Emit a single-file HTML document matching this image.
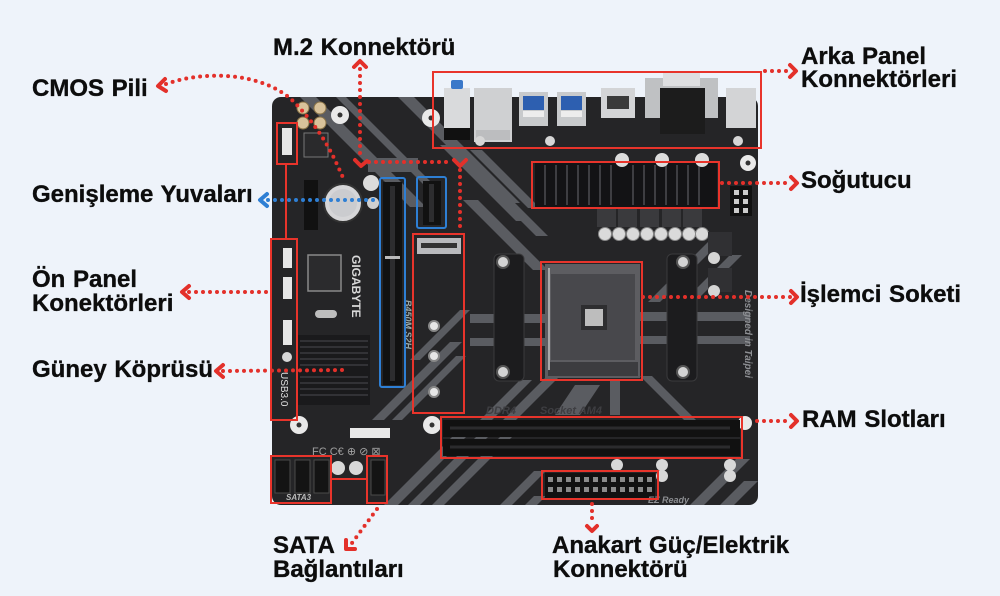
<!DOCTYPE html>
<html><head><meta charset="utf-8"><style>
html,body{margin:0;padding:0;background:#eef3fa;}
svg{display:block}
.lbl{font-family:"Liberation Sans",Arial,sans-serif;font-weight:bold;font-size:24px;fill:#0d0d0d;stroke:#0d0d0d;stroke-width:0.35px;word-spacing:1px;}
</style></head><body>
<svg width="1000" height="596" viewBox="0 0 1000 596" xmlns="http://www.w3.org/2000/svg">
<defs>
<clipPath id="bc"><rect x="272" y="97" width="486" height="408" rx="9"/></clipPath>
</defs>
<rect width="1000" height="596" fill="#eef3fa"/>

<!-- board -->
<rect x="272" y="97" width="486" height="408" rx="9" fill="#252527"/>
<g clip-path="url(#bc)" fill="#5a5c61">
  <polygon points="300,97 316,97 426,207 410,207"/>
  <polygon points="336,97 346,97 440,191 430,191"/>
  <polygon points="398,97 414,97 520,203 504,203"/>
  <polygon points="440,145 454,145 530,221 516,221"/>
  <polygon points="470,150 482,150 540,208 528,208"/>
  <rect x="368" y="158" width="50" height="14"/>
  <polygon points="463,200 478,200 548,270 533,270"/>
  <polygon points="500,200 512,200 548,236 536,236"/>
  <polygon points="712,238 724,238 660,302 648,302"/>
  <polygon points="730,255 742,255 690,307 678,307"/>
  <rect x="640" y="312" width="110" height="9"/>
  <rect x="640" y="336" width="110" height="8"/>
  <rect x="470" y="314" width="76" height="9"/>
  <rect x="470" y="338" width="76" height="8"/>
  <polygon points="547,376 560,376 510,426 497,426"/>
  <polygon points="520,380 532,380 490,422 478,422"/>
  <polygon points="640,376 652,376 702,426 690,426"/>
  <polygon points="610,380 620,380 620,415 610,415"/>
  <polygon points="575,385 600,385 580,415 555,415"/>
  <polygon points="372,420 384,420 462,342 450,342"/>
  <polygon points="392,420 402,420 466,356 456,356"/>
  <polygon points="384,505 398,505 470,433 456,433"/>
  <polygon points="408,505 420,505 492,433 480,433"/>
  <polygon points="432,505 444,505 514,435 502,435"/>
  <polygon points="500,505 512,505 546,471 534,471"/>
  <polygon points="525,505 537,505 546,496 534,496"/>
  <polygon points="690,505 704,505 750,459 736,459"/>
  <polygon points="720,505 734,505 758,481 744,481"/>
  <polygon points="410,360 420,360 470,310 460,310"/>
</g>

<!-- rear IO -->
<rect x="444" y="88" width="26" height="42" fill="#d9dadc"/>
<rect x="451" y="80" width="12" height="9" rx="2" fill="#3a78c9"/>
<rect x="444" y="128" width="26" height="12" fill="#111"/>
<rect x="474" y="88" width="38" height="54" fill="#cfd0d2"/>
<rect x="476" y="130" width="34" height="10" fill="#bcbdbf"/>
<rect x="519" y="92" width="29" height="34" fill="#c8cacc"/>
<rect x="523" y="96" width="21" height="14" fill="#2d5fb0"/>
<rect x="523" y="111" width="21" height="6" fill="#ededed"/>
<rect x="557" y="92" width="29" height="34" fill="#c8cacc"/>
<rect x="561" y="96" width="21" height="14" fill="#2d5fb0"/>
<rect x="561" y="111" width="21" height="6" fill="#ededed"/>
<rect x="601" y="88" width="34" height="30" fill="#d3d4d6"/>
<rect x="607" y="96" width="22" height="13" fill="#3a3a3a"/>
<rect x="645" y="78" width="73" height="40" fill="#bfc1c3"/>
<rect x="663" y="73" width="37" height="13" fill="#dedfe1"/>
<rect x="660" y="88" width="45" height="46" fill="#1c1c1c"/>
<rect x="726" y="88" width="30" height="40" fill="#d3d4d6"/>
<circle cx="480" cy="141" r="5" fill="#d6d6d6"/>
<circle cx="550" cy="141" r="5" fill="#d6d6d6"/>
<circle cx="738" cy="141" r="5" fill="#d6d6d6"/>

<!-- mounting holes -->
<g fill="#e9e9e9">
<circle cx="340" cy="115" r="9"/><circle cx="431" cy="118" r="9"/>
<circle cx="748" cy="163" r="8"/><circle cx="299" cy="425" r="9"/>
<circle cx="432" cy="425" r="9"/><circle cx="745" cy="423" r="7"/>
</g>
<g fill="#333">
<circle cx="340" cy="115" r="2.5"/><circle cx="431" cy="118" r="2.5"/>
<circle cx="748" cy="163" r="2.5"/><circle cx="299" cy="425" r="2.5"/>
<circle cx="432" cy="425" r="2.5"/>
</g>

<!-- top-left caps -->
<g fill="#d8c29a" stroke="#8a7448" stroke-width="1">
<circle cx="303" cy="108" r="6"/><circle cx="320" cy="108" r="6"/>
<circle cx="303" cy="123" r="6"/><circle cx="320" cy="123" r="6"/>
</g>
<rect x="304" y="133" width="24" height="24" fill="#2a2a2c" stroke="#777" stroke-width="1"/>

<!-- PCIe slots -->
<rect x="304" y="180" width="14" height="50" fill="#111"/>
<rect x="383" y="182" width="19" height="203" fill="#111"/>
<rect x="390" y="186" width="5" height="195" fill="#2d2d2f"/>
<rect x="385" y="256" width="15" height="3" fill="#bbb"/>
<rect x="423" y="181" width="18" height="44" fill="#111"/>
<rect x="429" y="184" width="5" height="38" fill="#2d2d2f"/>

<!-- battery -->
<circle cx="343" cy="203" r="19" fill="#d6d6d8" stroke="#333" stroke-width="2"/>
<circle cx="343" cy="203" r="14" fill="#cbcccf"/>
<circle cx="371" cy="183" r="8" fill="#dcdcdc"/>
<circle cx="373" cy="203" r="6" fill="#cfcfcf"/>

<!-- M.2 -->
<rect x="417" y="238" width="44" height="16" fill="#b9babd"/>
<rect x="421" y="243" width="36" height="5" fill="#333"/>
<g fill="#e6e6e6" stroke="#888" stroke-width="2">
<circle cx="434" cy="326" r="5"/><circle cx="434" cy="356" r="5"/><circle cx="434" cy="392" r="5"/>
</g>

<!-- super IO chip and GIGABYTE -->
<rect x="308" y="255" width="33" height="36" fill="#2b2b2d" stroke="#8a8a8a" stroke-width="1.5"/>
<text x="352" y="255" transform="rotate(90 352 255)" font-family="Liberation Sans, sans-serif" font-weight="bold" font-size="12" fill="#d8d8d8">GIGABYTE</text>
<text x="405" y="300" transform="rotate(90 405 300)" font-family="Liberation Sans, sans-serif" font-weight="bold" font-style="italic" font-size="9" fill="#9aa">B450M S2H</text>

<!-- southbridge heatsink -->
<rect x="298" y="335" width="72" height="70" fill="#1a1a1c"/>
<g stroke="#3b3b3f" stroke-width="1.5">
<line x1="300" y1="341" x2="368" y2="341"/><line x1="300" y1="347" x2="368" y2="347"/>
<line x1="300" y1="353" x2="368" y2="353"/><line x1="300" y1="359" x2="368" y2="359"/>
<line x1="300" y1="365" x2="368" y2="365"/><line x1="300" y1="377" x2="368" y2="377"/>
<line x1="300" y1="383" x2="368" y2="383"/><line x1="300" y1="389" x2="368" y2="389"/>
<line x1="300" y1="395" x2="368" y2="395"/>
</g>
<rect x="315" y="310" width="22" height="8" rx="4" fill="#bdbdbd"/>

<!-- front panel headers -->
<g fill="#e6e6e6">
<rect x="282" y="128" width="10" height="27"/>
<rect x="283" y="248" width="9" height="20"/>
<rect x="283" y="277" width="9" height="22"/>
<rect x="283" y="320" width="9" height="25"/>
</g>
<circle cx="287" cy="357" r="5" fill="#d8d8d8"/>
<text x="281" y="372" transform="rotate(90 281 372)" font-family="Liberation Sans, sans-serif" font-size="10" fill="#ddd">USB3.0</text>

<!-- SATA -->
<g fill="#141414" stroke="#4a4a4a" stroke-width="1">
<rect x="275" y="460" width="15" height="33"/><rect x="295" y="460" width="15" height="33"/>
<rect x="314" y="460" width="15" height="33"/><rect x="371" y="460" width="14" height="35"/>
</g>
<text x="286" y="500" font-family="Liberation Sans, sans-serif" font-weight="bold" font-style="italic" font-size="8" fill="#bbb">SATA3</text>
<circle cx="338" cy="468" r="7" fill="#d8d8d8"/><circle cx="356" cy="468" r="7" fill="#d8d8d8"/>
<rect x="350" y="428" width="40" height="10" fill="#e9e9e9"/>
<text x="312" y="455" font-family="Liberation Sans, sans-serif" font-size="11" fill="#a0a0a0">FC C€ ⊕ ⊘ ⊠</text>

<!-- VRM heatsink -->
<rect x="535" y="163" width="182" height="44" fill="#131315"/>
<g stroke="#3e3e42" stroke-width="2">
<line x1="545" y1="165" x2="545" y2="205"/><line x1="556" y1="165" x2="556" y2="205"/>
<line x1="567" y1="165" x2="567" y2="205"/><line x1="578" y1="165" x2="578" y2="205"/>
<line x1="589" y1="165" x2="589" y2="205"/><line x1="600" y1="165" x2="600" y2="205"/>
<line x1="611" y1="165" x2="611" y2="205"/><line x1="633" y1="165" x2="633" y2="205"/>
<line x1="644" y1="165" x2="644" y2="205"/><line x1="655" y1="165" x2="655" y2="205"/>
<line x1="666" y1="165" x2="666" y2="205"/><line x1="677" y1="165" x2="677" y2="205"/>
<line x1="688" y1="165" x2="688" y2="205"/><line x1="699" y1="165" x2="699" y2="205"/>
</g>
<g fill="#dcdcdc"><circle cx="622" cy="160" r="7"/><circle cx="662" cy="160" r="7"/><circle cx="702" cy="160" r="7"/></g>
<rect x="730" y="186" width="22" height="30" fill="#111"/>
<g fill="#ccc"><rect x="734" y="190" width="5" height="5"/><rect x="743" y="190" width="5" height="5"/>
<rect x="734" y="199" width="5" height="5"/><rect x="743" y="199" width="5" height="5"/>
<rect x="734" y="208" width="5" height="5"/><rect x="743" y="208" width="5" height="5"/></g>

<!-- chokes and caps -->
<g fill="#3a3a3d"><rect x="597" y="209" width="19" height="18"/><rect x="618" y="209" width="19" height="18"/>
<rect x="640" y="209" width="19" height="18"/><rect x="662" y="209" width="19" height="18"/><rect x="683" y="209" width="19" height="18"/></g>
<g fill="#dadada" stroke="#888" stroke-width="1">
<circle cx="605" cy="234" r="6.5"/><circle cx="619" cy="234" r="6.5"/><circle cx="633" cy="234" r="6.5"/>
<circle cx="647" cy="234" r="6.5"/><circle cx="661" cy="234" r="6.5"/><circle cx="675" cy="234" r="6.5"/>
<circle cx="689" cy="234" r="6.5"/><circle cx="702" cy="234" r="6.5"/>
</g>
<g fill="#303033"><rect x="708" y="232" width="24" height="24"/><rect x="708" y="268" width="24" height="24"/></g>
<circle cx="714" cy="258" r="6" fill="#d5d5d5"/><circle cx="714" cy="291" r="6" fill="#d5d5d5"/>
<text x="745" y="290" transform="rotate(90 745 290)" font-family="Liberation Sans, sans-serif" font-weight="bold" font-style="italic" font-size="10" fill="#8d8f93">Designed in Taipei</text>

<!-- CPU brackets -->
<rect x="494" y="254" width="30" height="127" rx="5" fill="#1c1c1e" stroke="#3a3a3c" stroke-width="1"/>
<rect x="667" y="254" width="30" height="127" rx="5" fill="#1c1c1e" stroke="#3a3a3c" stroke-width="1"/>
<g fill="#d4d4d4" stroke="#555" stroke-width="2">
<circle cx="503" cy="262" r="6"/><circle cx="503" cy="372" r="6"/>
<circle cx="683" cy="262" r="6"/><circle cx="683" cy="372" r="6"/>
</g>

<!-- CPU socket -->
<rect x="545" y="264" width="95" height="114" fill="#5d5d61"/>
<rect x="551" y="274" width="84" height="86" fill="#48484c"/>
<rect x="581" y="305" width="26" height="25" fill="#2e2e30"/>
<rect x="585" y="309" width="18" height="17" fill="#bdbdbd"/>
<rect x="548" y="362" width="90" height="14" fill="#3c3c3f"/>
<line x1="549" y1="268" x2="549" y2="370" stroke="#a8a8a8" stroke-width="2"/>
<text x="486" y="414" font-family="Liberation Sans, sans-serif" font-weight="bold" font-style="italic" font-size="11" fill="#3e3e42">DDR4</text>
<text x="540" y="414" font-family="Liberation Sans, sans-serif" font-weight="bold" font-style="italic" font-size="11" fill="#3e3e42">Socket AM4</text>

<!-- RAM -->
<rect x="443" y="420" width="297" height="17" fill="#111"/>
<rect x="443" y="439" width="297" height="17" fill="#111"/>
<line x1="450" y1="428" x2="730" y2="428" stroke="#2b2b2d" stroke-width="3"/>
<line x1="450" y1="447" x2="730" y2="447" stroke="#2b2b2d" stroke-width="3"/>
<g fill="#d8d8d8"><circle cx="617" cy="465" r="6"/><circle cx="662" cy="465" r="6"/><circle cx="730" cy="465" r="6"/><circle cx="662" cy="476" r="6"/><circle cx="730" cy="476" r="6"/></g>

<!-- 24 pin -->
<rect x="545" y="473" width="110" height="25" fill="#111"/>
<g fill="#8a8a8a">
<rect x="548" y="477" width="5" height="5"/><rect x="557" y="477" width="5" height="5"/><rect x="566" y="477" width="5" height="5"/><rect x="575" y="477" width="5" height="5"/><rect x="584" y="477" width="5" height="5"/><rect x="593" y="477" width="5" height="5"/><rect x="602" y="477" width="5" height="5"/><rect x="611" y="477" width="5" height="5"/><rect x="620" y="477" width="5" height="5"/><rect x="629" y="477" width="5" height="5"/><rect x="638" y="477" width="5" height="5"/><rect x="647" y="477" width="5" height="5"/>
<rect x="548" y="487" width="5" height="5"/><rect x="557" y="487" width="5" height="5"/><rect x="566" y="487" width="5" height="5"/><rect x="575" y="487" width="5" height="5"/><rect x="584" y="487" width="5" height="5"/><rect x="593" y="487" width="5" height="5"/><rect x="602" y="487" width="5" height="5"/><rect x="611" y="487" width="5" height="5"/><rect x="620" y="487" width="5" height="5"/><rect x="629" y="487" width="5" height="5"/><rect x="638" y="487" width="5" height="5"/><rect x="647" y="487" width="5" height="5"/>
</g>
<text x="648" y="503" font-family="Liberation Sans, sans-serif" font-weight="bold" font-style="italic" font-size="9" fill="#8d8f93">EZ Ready</text>

<!-- red boxes -->
<g fill="none" stroke="#e8342b" stroke-width="2">
<rect x="433" y="72" width="328" height="76"/>
<rect x="532" y="162" width="187" height="46"/>
<rect x="541" y="262" width="101" height="118"/>
<rect x="441" y="417" width="301" height="41"/>
<rect x="542" y="471" width="116" height="28"/>
<rect x="413" y="234" width="51" height="179"/>
<rect x="277" y="123" width="20" height="41"/>
<rect x="271" y="239" width="26" height="181"/>
<rect x="271" y="456" width="60" height="47"/>
<rect x="367" y="456" width="20" height="47"/>
<line x1="286" y1="164" x2="286" y2="239"/>
<line x1="331" y1="479" x2="367" y2="479"/>
</g>
<!-- blue boxes -->
<g fill="none" stroke="#2e7fd4" stroke-width="2">
<rect x="380" y="178" width="25" height="209" rx="2"/>
<rect x="417" y="177" width="29" height="51" rx="2"/>
</g>

<!-- dotted connectors -->
<g fill="none" stroke="#e3302a" stroke-width="4" stroke-linecap="round" stroke-dasharray="0 7">
<path d="M166,84 C205,70 265,72 295,103 S335,160 345,182"/>
<path d="M360,69 L360,156"/>
<path d="M369,162 L453,162"/>
<path d="M460,170 L460,230"/>
<path d="M189,292 L268,292"/>
<path d="M223,371 L346,370"/>
<path d="M377,509 L352,543"/>
<path d="M765,71 L790,71"/>
<path d="M722,183 L791,183"/>
<path d="M643,297 L791,297"/>
<path d="M757,421 L791,421"/>
<path d="M592,504 L592,524"/>
</g>
<path d="M268,200 L378,200" fill="none" stroke="#2e7fd4" stroke-width="4" stroke-linecap="round" stroke-dasharray="0 7"/>

<!-- arrowheads -->
<g fill="none" stroke="#e3302a" stroke-width="4" stroke-linecap="round" stroke-linejoin="round">
<path d="M165,79 L158,86 L166,91"/>
<path d="M354,67 L360,61 L366,67"/>
<path d="M355,160 L361,166 L367,161"/>
<path d="M454,160 L460,166 L466,160"/>
<path d="M189,286 L182,292 L189,298"/>
<path d="M223,365 L216,371 L223,377"/>
<path d="M346,540 L346,549 L355,549"/>
<path d="M790,65 L796,71 L790,77"/>
<path d="M791,177 L797,183 L791,189"/>
<path d="M791,291 L797,297 L791,303"/>
<path d="M791,415 L797,421 L791,427"/>
<path d="M587,526 L592,531 L597,526"/>
</g>
<path d="M267,194 L260,200 L267,206" fill="none" stroke="#2e7fd4" stroke-width="4" stroke-linecap="round" stroke-linejoin="round"/>

<!-- labels -->
<text class="lbl" x="273" y="55">M.2 Konnektörü</text>
<text class="lbl" x="32" y="96">CMOS Pili</text>
<text class="lbl" x="32" y="202">Genişleme Yuvaları</text>
<text class="lbl" x="32" y="287">Ön Panel</text>
<text class="lbl" x="32" y="311">Konektörleri</text>
<text class="lbl" x="32" y="377">Güney Köprüsü</text>
<text class="lbl" x="273" y="553">SATA</text>
<text class="lbl" x="273" y="577">Bağlantıları</text>
<text class="lbl" x="552" y="553">Anakart Güç/Elektrik</text>
<text class="lbl" x="553" y="577">Konnektörü</text>
<text class="lbl" x="801" y="64">Arka Panel</text>
<text class="lbl" x="801" y="87">Konnektörleri</text>
<text class="lbl" x="801" y="188">Soğutucu</text>
<text class="lbl" x="800" y="302">İşlemci Soketi</text>
<text class="lbl" x="802" y="427">RAM Slotları</text>
</svg>
</body></html>
